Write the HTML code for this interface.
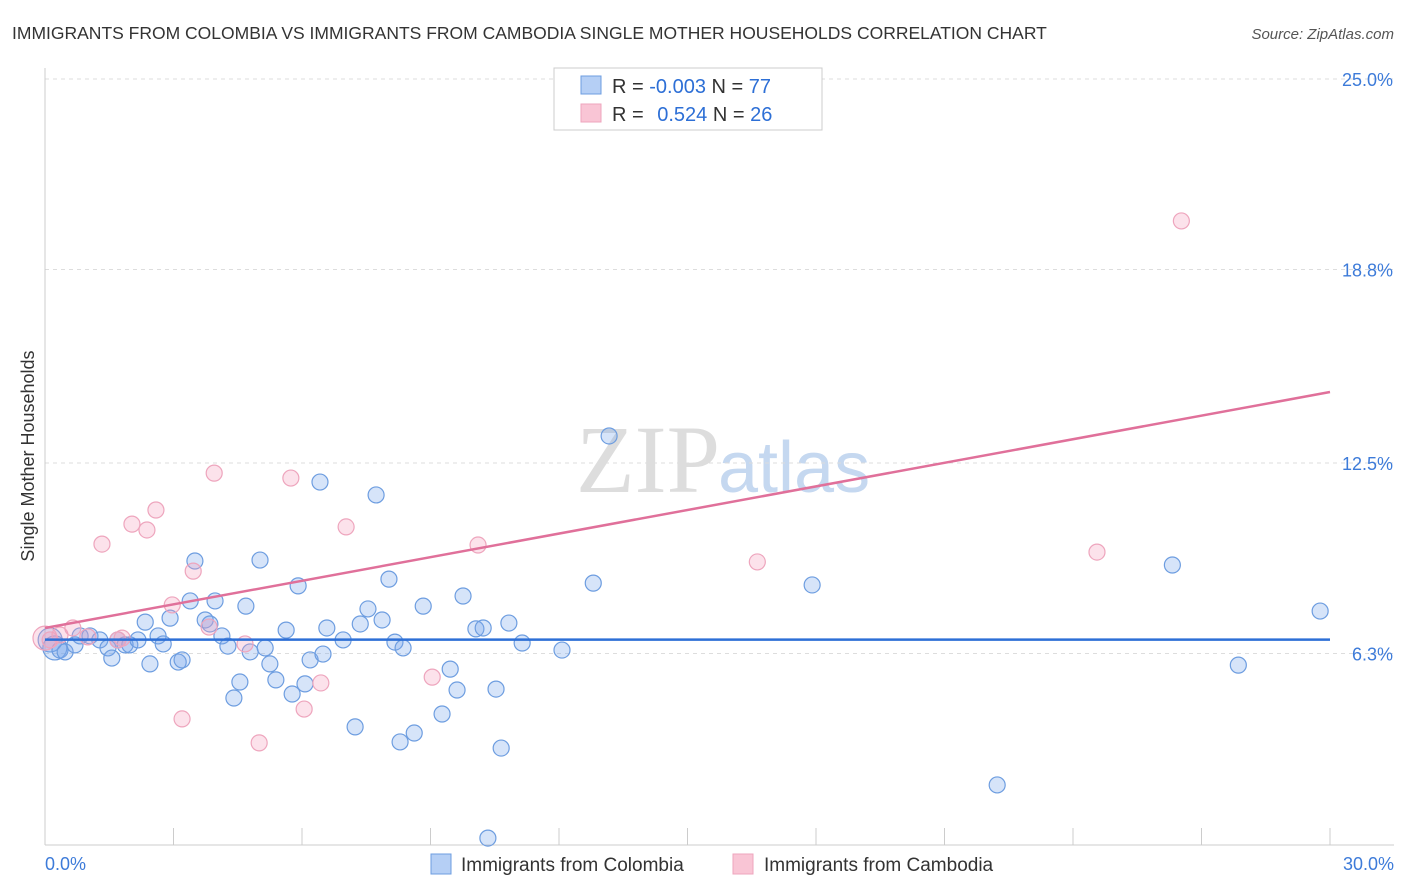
<!DOCTYPE html>
<html><head><meta charset="utf-8"><style>
body{margin:0;background:#fff;font-family:"Liberation Sans",sans-serif;}
svg{display:block}
</style></head><body>
<svg id="chart" width="1406" height="892">
<text x="12" y="39" font-size="17.5" fill="#333">IMMIGRANTS FROM COLOMBIA VS IMMIGRANTS FROM CAMBODIA SINGLE MOTHER HOUSEHOLDS CORRELATION CHART</text>
<text x="1394" y="39" font-size="15" fill="#555" font-style="italic" text-anchor="end">Source: ZipAtlas.com</text>
<text x="720" y="492" font-size="96" fill="#ddd" text-anchor="end" font-family="Liberation Serif,serif">ZIP</text>
<text x="718" y="492" font-size="72" fill="#c5d8f0">atlas</text>
<text transform="translate(34,456) rotate(-90)" font-size="18" fill="#333" text-anchor="middle">Single Mother Households</text>
<g id="grid"></g><g id="pts"></g><g id="lines"></g>
<g>
<rect x="554" y="68" width="268" height="62" fill="#fff" stroke="#ccc"/>
<rect x="581" y="76" width="20" height="18" fill="#b5cff5" stroke="#6d9de0"/>
<rect x="581" y="104" width="20" height="18" fill="#f9c5d5" stroke="#eea5bd"/>
<text x="612" y="93" font-size="20" fill="#333">R = <tspan fill="#2d6fd6">-0.003</tspan>   N = <tspan fill="#2d6fd6">77</tspan></text>
<text x="612" y="121" font-size="20" fill="#333">R =   <tspan fill="#2d6fd6" dx="8">0.524</tspan>   N = <tspan fill="#2d6fd6">26</tspan></text>
</g>
<g>
<rect x="431" y="854" width="20" height="20" fill="#b5cff5" stroke="#6d9de0"/>
<text x="461" y="871" font-size="19" fill="#333">Immigrants from Colombia</text>
<rect x="733" y="854" width="20" height="20" fill="#f9c5d5" stroke="#eea5bd"/>
<text x="764" y="871" font-size="19" fill="#333">Immigrants from Cambodia</text>
</g>
</svg>
<script>
const xTicks=[0,30];
const yTicks=[6.3,12.5,18.8,25.0];
const blueX=[0.12,0.23,0.35,0.47,0.70,0.82,1.05,1.28,1.47,1.56,1.70,1.87,1.98,2.17,2.34,2.45,2.64,2.76,2.92,3.11,3.20,3.39,3.50,3.74,3.85,3.97,4.13,4.27,4.41,4.55,4.69,4.79,5.02,5.14,5.25,5.39,5.63,5.77,5.91,6.07,6.19,6.42,6.49,6.58,6.96,7.24,7.36,7.54,7.73,7.87,8.03,8.17,8.29,8.36,8.62,8.83,9.27,9.46,9.62,9.76,10.06,10.23,10.34,10.53,10.65,10.83,11.14,12.07,12.80,13.17,17.91,22.23,26.32,27.86,29.77];
const blueY=[6.74,6.48,6.41,6.35,6.58,6.87,6.87,6.74,6.48,6.15,6.74,6.58,6.58,6.74,7.32,5.96,6.87,6.61,7.45,6.02,6.09,8.01,9.31,7.39,7.26,8.01,6.87,6.54,4.85,5.37,7.84,6.35,9.34,6.48,5.96,5.44,7.06,4.98,8.50,5.31,6.09,11.88,6.28,7.13,6.74,3.91,7.26,7.75,11.46,7.39,8.72,6.67,3.42,6.48,3.71,7.84,4.33,5.79,5.11,8.17,7.10,7.13,0.29,5.14,3.22,7.29,6.64,6.41,8.59,13.38,8.53,2.02,9.18,5.92,7.68];
const pinkX=[0.0,0.12,0.35,0.65,1.00,1.33,1.70,1.80,2.03,2.38,2.59,2.97,3.20,3.46,3.83,3.95,4.67,5.00,5.74,6.05,6.44,7.03,9.04,10.11,16.63,24.56,26.53];
const pinkY=[6.80,6.74,6.90,7.13,6.84,9.86,6.74,6.80,10.51,10.32,10.97,7.88,4.17,8.98,7.16,12.17,6.61,3.39,12.01,4.49,5.34,10.42,5.53,9.83,9.28,9.60,20.38];
const blueFit=[6.75,6.75];
const pinkFit=[7.13,14.81];
const NS='http://www.w3.org/2000/svg';
const X=v=>45+v/30*1285;
const Y=v=>655-(v-6.25)*30.72;
function mk(t,a,p){const e=document.createElementNS(NS,t);for(const k in a)e.setAttribute(k,a[k]);p.appendChild(e);return e;}
const g=document.getElementById('grid');
yTicks.forEach(t=>{const l=mk('line',{x1:45,x2:1394,y1:Y(t),y2:Y(t),stroke:'#ddd','stroke-dasharray':'4,4'},g);


const tx=mk('text',{x:1393,y:Y(t)+7,'font-size':18,fill:'#3d7bd9','text-anchor':'end'},g);tx.textContent=t.toFixed(1)+'%';

});
const ax=mk('line',{x1:45,x2:1394,y1:845,y2:845,stroke:'#ccc'},g);


const ay=mk('line',{x1:45,x2:45,y1:68,y2:845,stroke:'#ccc'},g);


for(let i=0;i<=10;i++){const v=i*3;const t=mk('line',{x1:X(v),x2:X(v),y1:828,y2:845,stroke:'#ccc'},g);

}
xTicks.forEach((t,i)=>{const tx=mk('text',{x:X(t)+(i==0?0:0),y:870,'font-size':18,fill:'#3d7bd9','text-anchor':i==0?'start':'end'},g);
tx.textContent=t.toFixed(1)+'%';
if(i==1)tx.setAttribute('x',1394);

});
const p=document.getElementById('pts');
blueX.forEach((v,i)=>{const c=mk('circle',{cx:X(v),cy:Y(blueY[i]),r:i<2?12:8,fill:'rgba(120,165,235,0.3)',stroke:'#6d9de0','stroke-width':1.2},p);

});
pinkX.forEach((v,i)=>{const c=mk('circle',{cx:X(v),cy:Y(pinkY[i]),r:i<1?12:8,fill:'rgba(245,160,190,0.3)',stroke:'#eea5bd','stroke-width':1.2},p);

});
const L=document.getElementById('lines');
const b=mk('line',{x1:X(0),x2:X(30),y1:Y(blueFit[0]),y2:Y(blueFit[1]),stroke:'#2d6fd6','stroke-width':2.5},L);


const pk=mk('line',{x1:X(0),x2:X(30),y1:Y(pinkFit[0]),y2:Y(pinkFit[1]),stroke:'#e0709a','stroke-width':2.5},L);


</script>
</body></html>
